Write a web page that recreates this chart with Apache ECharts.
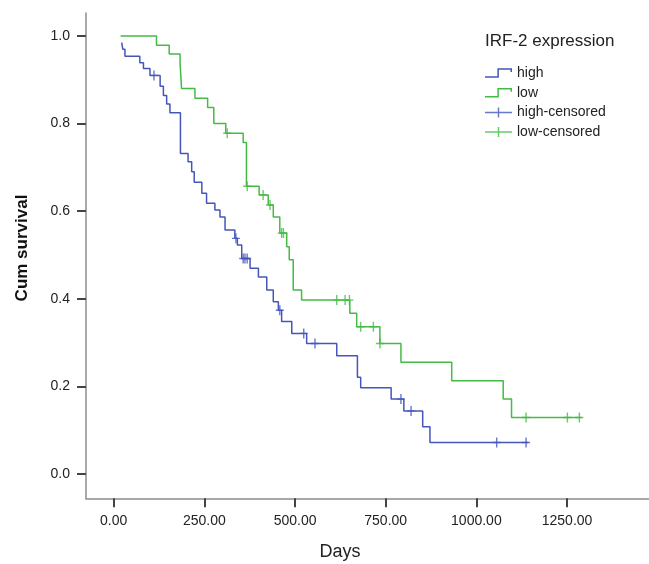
<!DOCTYPE html>
<html>
<head>
<meta charset="utf-8">
<title>IRF-2 survival</title>
<script src="https://cdn.jsdelivr.net/npm/echarts@6/dist/echarts.min.js"></script>
<style>
	body { margin: 0; background: #fff; }
	#chart { width: 649px; height: 564px; }
</style>
</head>
<body>
<div id="chart"></div>
<script>
	// step points (time, survival after the step)
	var highTimes = [22, 25, 31, 72, 82, 100, 128, 137, 146, 155, 184, 205, 215, 222, 243, 256, 279, 293, 307, 334, 341, 353, 376, 399, 422, 440, 454, 463, 491, 532, 615, 672, 681, 765, 800, 852, 872, 1143];
	var highSurv = [0.985, 0.970, 0.954, 0.939, 0.926, 0.910, 0.885, 0.864, 0.845, 0.825, 0.732, 0.713, 0.690, 0.666, 0.641, 0.618, 0.603, 0.587, 0.557, 0.538, 0.523, 0.492, 0.470, 0.450, 0.420, 0.393, 0.374, 0.348, 0.321, 0.298, 0.270, 0.221, 0.197, 0.171, 0.144, 0.108, 0.072, 0.072];
	var lowTimes = [19, 118, 153, 183, 185, 187, 224, 259, 276, 309, 357, 366, 401, 426, 440, 458, 477, 484, 495, 518, 651, 670, 734, 792, 932, 1074, 1097, 1290];
	var lowSurv = [1.0, 0.979, 0.959, 0.937, 0.910, 0.880, 0.858, 0.837, 0.800, 0.778, 0.757, 0.657, 0.637, 0.614, 0.587, 0.550, 0.519, 0.489, 0.420, 0.397, 0.367, 0.336, 0.298, 0.255, 0.213, 0.171, 0.129, 0.129];

	// censored cases
	var highCensTimes = [111, 337, 357, 362, 368, 458, 524, 555, 792, 820, 1056, 1137];
	var highCensSurv = [0.910, 0.538, 0.492, 0.492, 0.492, 0.374, 0.321, 0.298, 0.171, 0.144, 0.072, 0.072];
	var lowCensTimes = [313, 368, 412, 431, 463, 468, 615, 638, 650, 681, 716, 734, 1137, 1251, 1284];
	var lowCensSurv = [0.778, 0.657, 0.637, 0.614, 0.550, 0.550, 0.397, 0.397, 0.397, 0.336, 0.336, 0.298, 0.129, 0.129, 0.129];

	var xTicks = [0, 250, 500, 750, 1000, 1250];
	var yTicks = [0, 0.2, 0.4, 0.6, 0.8, 1.0];

	var blue = '#4455bb';
	var green = '#44bb44';
	var font = '"Liberation Sans", Arial, sans-serif';

	function zip(a, b) {
		return a.map(function (v, i) { return [v, b[i]]; });
	}

	// little cross used for censored marks
	var plusMark = 'path://M0,4.3H8V5.7H0Z M3.3,0H4.7V10H3.3Z';
	var stepIcon = 'path://M0,8.25H12.25V0.25H26.75V4H25.25V1.75H13.75V9.75H0Z';
	var plusIcon = 'path://M0,4.25H27V5.75H0Z M12.75,0H14.25V10H12.75Z';

	var chart = echarts.init(document.getElementById('chart'));
	chart.setOption({
		animation: false,
		textStyle: { fontFamily: font },
		title: {
			text: 'IRF-2 expression',
			left: 485, top: 33, padding: 0,
			textStyle: { fontSize: 17, fontWeight: 'normal', color: '#222', fontFamily: font }
		},
		legend: {
			orient: 'vertical',
			left: 485, top: 66, padding: 0,
			itemWidth: 27, itemHeight: 10, itemGap: 5.7,
			itemStyle: { borderWidth: 0 },
			textStyle: { fontSize: 14, color: '#222', lineHeight: 14, fontFamily: font },
			data: [
				{ name: 'high', icon: stepIcon },
				{ name: 'low', icon: stepIcon },
				{ name: 'high-censored', icon: plusIcon },
				{ name: 'low-censored', icon: plusIcon }
			]
		},
		grid: { left: 86, right: 0, top: 13, bottom: 65.7 },
		xAxis: {
			type: 'value',
			min: -76.4, max: 1476,
			splitLine: { show: false },
			axisLine: { onZero: false, lineStyle: { color: '#8c8c8c', width: 1.5 } },
			axisTick: { customValues: xTicks, length: 9, lineStyle: { color: '#444', width: 2 } },
			axisLabel: {
				customValues: xTicks, margin: 16, fontSize: 14, color: '#222',
				formatter: function (v) { return v.toFixed(2); }
			}
		},
		yAxis: {
			type: 'value',
			min: -0.0555, max: 1.0525,
			splitLine: { show: false },
			axisLine: { show: true, onZero: false, lineStyle: { color: '#8c8c8c', width: 1.5 } },
			axisTick: { show: true, customValues: yTicks, length: 9, lineStyle: { color: '#444', width: 2 } },
			axisLabel: {
				customValues: yTicks, margin: 16, fontSize: 14, color: '#222',
				formatter: function (v) { return v.toFixed(1); }
			}
		},
		graphic: [
			{
				type: 'text', x: 340, y: 552,
				style: { text: 'Days', fontSize: 18, fontFamily: font, fill: '#222', textAlign: 'center', textVerticalAlign: 'middle' }
			},
			{
				type: 'text', x: 22, y: 248, rotation: Math.PI / 2,
				style: { text: 'Cum survival', fontSize: 17, fontWeight: 'bold', fontFamily: font, fill: '#111', textAlign: 'center', textVerticalAlign: 'middle' }
			}
		],
		series: [
			{
				name: 'high', type: 'line', step: 'end', symbol: 'none',
				color: blue, lineStyle: { width: 1.5, color: blue },
				data: zip(highTimes, highSurv)
			},
			{
				name: 'low', type: 'line', step: 'end', symbol: 'none',
				color: green, lineStyle: { width: 1.5, color: green },
				data: zip(lowTimes, lowSurv)
			},
			{
				name: 'high-censored', type: 'scatter',
				symbol: plusMark, symbolSize: [8, 10],
				itemStyle: { color: blue },
				data: zip(highCensTimes, highCensSurv)
			},
			{
				name: 'low-censored', type: 'scatter',
				symbol: plusMark, symbolSize: [8, 10],
				itemStyle: { color: green },
				data: zip(lowCensTimes, lowCensSurv)
			}
		]
	});
</script>
</body>
</html>
